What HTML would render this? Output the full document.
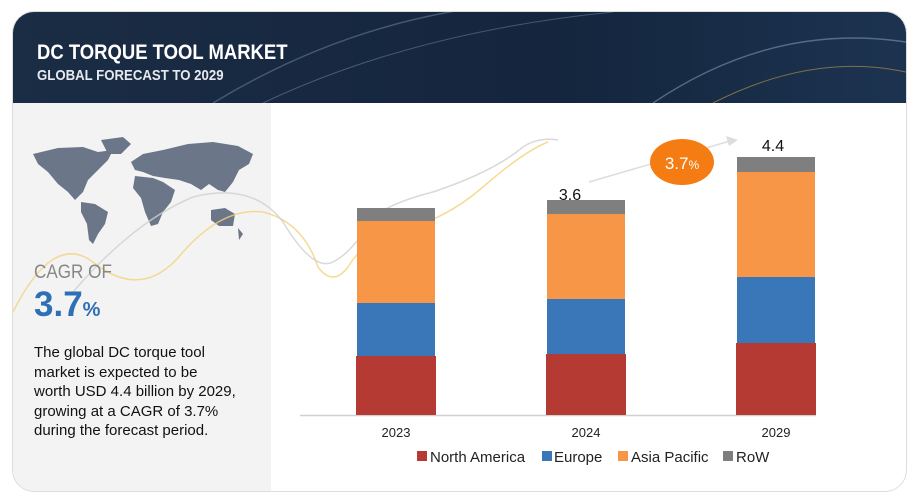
<!DOCTYPE html>
<html><head><meta charset="utf-8"><style>
body{margin:0;width:915px;height:497px;background:#fff;font-family:"Liberation Sans",sans-serif;position:relative;overflow:hidden}
.card{position:absolute;left:12px;top:11px;width:893px;height:479px;border:1px solid #ddd;border-radius:22px;overflow:hidden;background:#fff}
.hdr{position:absolute;left:0;top:0;width:893px;height:91px;background:linear-gradient(90deg,#1b2c45,#14253d 60%,#1c3350)}
.left{position:absolute;left:0;top:91px;width:258px;height:388px;background:#f3f3f4}
.t{position:absolute;white-space:nowrap}
</style></head><body>
<div class="card">
<div class="hdr">
<svg width="893" height="91" style="position:absolute;left:0;top:0">
<path d="M200 91 Q350 0 520 -10" stroke="#6f8aa6" stroke-width="1.5" fill="none" opacity=".5"/>
<path d="M250 91 Q400 20 600 0" stroke="#8fa6c0" stroke-width="1" fill="none" opacity=".4"/>
<path d="M640 91 Q760 10 893 30" stroke="#8fa6c0" stroke-width="1.5" fill="none" opacity=".5"/>
<path d="M700 91 Q800 40 893 60" stroke="#d9b34a" stroke-width="1" fill="none" opacity=".5"/>
</svg>
<div class="t" style="left:24px;top:29px;color:#fff;font-size:21px;font-weight:bold;transform:scaleX(.88);transform-origin:left">DC TORQUE TOOL MARKET</div>
<div class="t" style="left:24px;top:55px;color:#e6e9ee;font-size:15px;font-weight:bold;transform:scaleX(.88);transform-origin:left">GLOBAL FORECAST TO 2029</div>
</div>
<div class="left"></div>
<svg width="893" height="479" style="position:absolute;left:0;top:0">
<g fill="#6b7689">
<path d="M20 142 L45 136 L70 135 L85 140 L100 138 L95 148 L85 158 L75 168 L70 180 L62 188 L55 180 L45 172 L35 160 L25 152Z"/>
<path d="M88 128 L110 125 L118 132 L108 142 L95 142Z"/>
<path d="M68 190 L82 192 L95 200 L92 212 L85 222 L80 232 L76 228 L74 212 L68 200Z"/>
<path d="M118 150 L130 142 L150 138 L175 132 L200 130 L225 134 L240 142 L236 152 L226 158 L220 170 L212 180 L205 178 L196 172 L188 178 L178 172 L166 168 L152 166 L140 164 L130 160 L122 158Z"/>
<path d="M122 164 L140 166 L150 170 L162 178 L158 190 L150 200 L145 212 L138 214 L132 200 L128 186 L120 176Z"/>
<path d="M198 198 L212 196 L222 202 L220 214 L206 214 L198 208Z"/>
<path d="M225 216 L230 222 L226 228Z"/>
</g>
<path d="M0 300 Q40 220 80 250 Q130 290 170 240 Q210 195 250 200 Q290 210 305 255 Q320 275 335 255 Q350 230 380 220 Q430 210 470 175 Q510 140 535 130" stroke="#f2d27a" stroke-width="1.5" fill="none" opacity=".8"/>
<path d="M60 280 Q120 210 180 185 Q240 170 270 210 Q300 260 320 250 Q340 240 360 205 Q380 190 420 180 Q480 160 510 135 Q525 125 545 128" stroke="#cfcfcf" stroke-width="1.5" fill="none" opacity=".8"/>
</svg>
</div>
<div class="t" style="left:34px;top:262px;color:#888;font-size:19px;transform:scaleX(.9);transform-origin:left">CAGR OF</div>
<div class="t" style="left:34px;top:285px;color:#2e6fb5;font-size:35px;font-weight:bold">3.7<span style="font-size:20px">%</span></div>
<div class="t" style="left:34px;top:343px;color:#111;font-size:15px;line-height:19.5px">The global DC torque tool<br>market is expected to be<br>worth USD 4.4 billion by 2029,<br>growing at a CAGR of 3.7%<br>during the forecast period.</div>
<svg width="915" height="497" style="position:absolute;left:0;top:0">
<line x1="300" y1="415.5" x2="816" y2="415.5" stroke="#d0d0d0" stroke-width="1.5"/>
<rect x="357" y="208" width="78" height="13" fill="#7f7f7f"/><rect x="357" y="221" width="78" height="82" fill="#f79646"/><rect x="357" y="303" width="78" height="53" fill="#3a77b8"/><rect x="356" y="356" width="80" height="59" fill="#b53a33"/>
<rect x="547" y="200" width="78" height="14" fill="#7f7f7f"/><rect x="547" y="214" width="78" height="85" fill="#f79646"/><rect x="547" y="299" width="78" height="55" fill="#3a77b8"/><rect x="546" y="354" width="80" height="61" fill="#b53a33"/>
<rect x="737" y="157" width="78" height="15" fill="#7f7f7f"/><rect x="737" y="172" width="78" height="105" fill="#f79646"/><rect x="737" y="277" width="78" height="66" fill="#3a77b8"/><rect x="736" y="343" width="80" height="72" fill="#b53a33"/>
<line x1="589" y1="182" x2="730" y2="141" stroke="#ddd" stroke-width="1.5"/>
<polygon points="738,140 726,136 729,146" fill="#ddd"/>
<ellipse cx="682" cy="162" rx="32" ry="23" fill="#f57c12"/>
<text x="682" y="169" fill="#fff" font-size="17" text-anchor="middle" font-family="Liberation Sans">3.7<tspan font-size="12">%</tspan></text>
<text x="570" y="200" font-size="16" text-anchor="middle" font-family="Liberation Sans" fill="#111">3.6</text>
<text x="773" y="151" font-size="16" text-anchor="middle" font-family="Liberation Sans" fill="#111">4.4</text>
<g font-size="13" font-family="Liberation Sans" fill="#222" text-anchor="middle">
<text x="396" y="437">2023</text><text x="586" y="437">2024</text><text x="776" y="437">2029</text>
</g>
<g font-size="15" font-family="Liberation Sans" fill="#222">
<rect x="417" y="451" width="10" height="10" fill="#b53a33"/><text x="430" y="462">North America</text>
<rect x="542" y="451" width="10" height="10" fill="#3a77b8"/><text x="554" y="462">Europe</text>
<rect x="618" y="451" width="10" height="10" fill="#f79646"/><text x="631" y="462">Asia Pacific</text>
<rect x="723" y="451" width="10" height="10" fill="#7f7f7f"/><text x="736" y="462">RoW</text>
</g>
</svg>
</body></html>
